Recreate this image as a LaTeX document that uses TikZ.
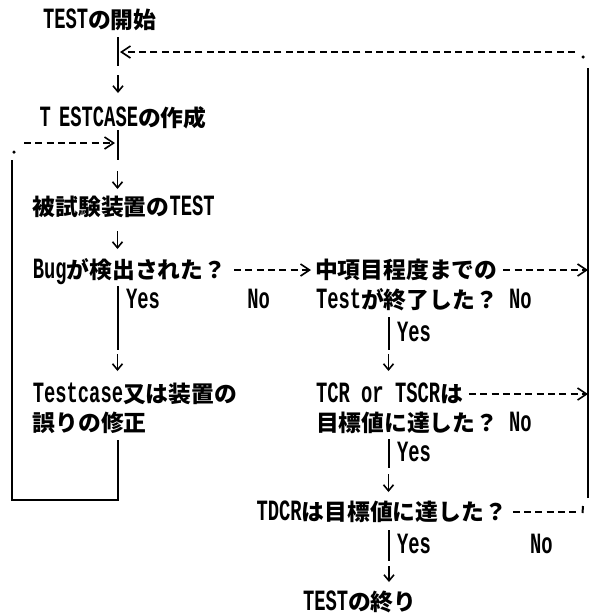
\documentclass[tikz,border=0pt]{standalone}
\usepackage{fontspec}
\setmainfont{Liberation Mono}[FakeStretch=0.64]
\newfontfamily\jpfont{Noto Sans CJK JP}[Scale=0.775]
\usetikzlibrary{arrows.meta}
\newcommand\jj[1]{{\jpfont #1}}
\begin{document}
\begin{tikzpicture}[x=1pt,y=-1pt,
  txt/.style={anchor=base west, inner sep=0pt, outer sep=0pt, font=\fontsize{29.4}{31}\selectfont\bfseries},
  ln/.style={line width=2pt},
  dsh/.style={line width=1.8pt, dash pattern=on 7pt off 4.29pt},
  harr/.style={-{Straight Barb[length=9pt,width=12pt,line width=1.6pt]}},
  varr/.style={line width=1.8pt, -{Straight Barb[length=6pt,width=10pt,line width=1.6pt]}},
  dotmark/.style={circle, fill, inner sep=0pt, minimum size=3.5pt}]
\useasboundingbox (0,0) rectangle (594,616);

% texts
\node[txt] (start) at (43,28) {TEST\jj{の開始}};
\node[txt] (tc) at (39.5,126) {T\kern-3pt\ ESTCASE\jj{の作成}};
\node[txt] (dut) at (32.8,215) {\jj{被試験装置の}TEST};
\node[txt] (bug) at (32.8,278) {Bug\jj{が検出された？}};
\node[txt] (mid) at (315.1,278) {\jj{中項目程度までの}};
\node[txt] (yes1) at (126,308) {Yes};
\node[txt] (no1) at (247.3,308) {No};
\node[txt] (fin) at (316,308) {Test\jj{が終了した？}};
\node[txt] (no2) at (509,308) {No};
\node[txt] (yes2) at (397,341) {Yes};
\node[txt] (fix1) at (32.8,402) {Testcase\jj{又は装置の}};
\node[txt] (fix2) at (32.8,431) {\jj{誤りの修正}};
\node[txt] (tcr1) at (316,402) {TCR or TSCR\jj{は}};
\node[txt] (tcr2) at (316,431) {\jj{目標値に達した？}};
\node[txt] (no3) at (509,431) {No};
\node[txt] (yes3) at (397,461) {Yes};
\node[txt] (tdcr) at (256.6,520) {TDCR\jj{は目標値に達した？}};
\node[txt] (yes4) at (397,553) {Yes};
\node[txt] (no4) at (530,553) {No};
\node[txt] (end) at (303,610) {TEST\jj{の終り}};

% corner marks
\node[dotmark] (dTR) at (583,57) {};
\node[dotmark] (dL) at (14,152) {};
\coordinate (rtop) at (588,68);
\coordinate (rbot) at (588,498);

% main column
\draw[ln] (118,37) -- (118,66);
\draw[dsh,harr] (575,52) -- (120,52);
\draw[varr] (118,75) -- (118,93);
\draw[dsh,harr] (24,143) -- (115,143);
\draw[ln] (117.5,130) -- (117.5,160);
\draw[varr] (117.5,171) -- (117.5,189);
\draw[varr] (117.5,231) -- (117.5,249);

% Bug? row
\draw[dsh,harr] ([xshift=8pt]bug.east |- 0,270) -- (311,270);
\draw[dsh,harr] ([xshift=6pt]mid.east |- 0,270) -- (588,270);

\draw[ln] (117.5,286) -- (117.5,350);
\draw[ln] (388.5,317) -- (388.5,350);
\draw[varr] (117.5,354) -- (117.5,371);
\draw[varr] (388.5,354) -- (388.5,371);

\draw[dsh,harr] ([xshift=6pt]tcr1.east |- 0,394) -- (588,394);

\draw[ln] (388.5,439) -- (388.5,468);
\draw[varr] (388.5,474) -- (388.5,492);

% left loop box
\draw[ln] (117.5,440) -- (117.5,500) -- (12,500) -- (12,160);

% TDCR row and right loop
\draw[dsh] ([xshift=6pt]tdcr.east |- 0,512) -- (577,512);
\draw[line width=2pt] (583,506) -- (582.5,513);
\draw[line width=2.4pt] (rbot) -- (rtop);

\draw[ln] (388.5,530) -- (388.5,561);
\draw[varr] (389,566) -- (389,582);
\end{tikzpicture}
\end{document}
